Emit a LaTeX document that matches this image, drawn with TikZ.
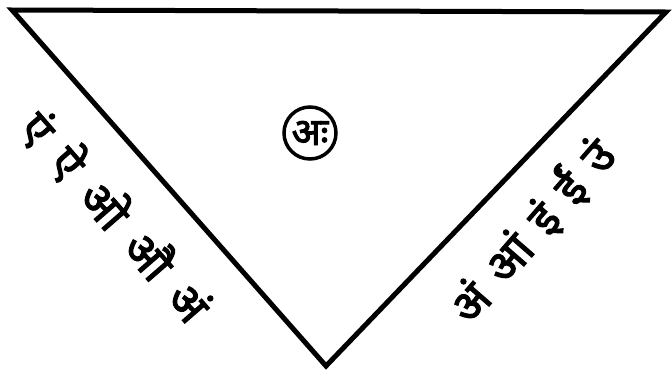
\documentclass[tikz,border=0pt]{standalone}
\usepackage{fontspec}
\newfontfamily\deva[Script=Devanagari,FakeBold=2.5]{Noto Sans}
\begin{document}
\begin{tikzpicture}[x=1pt,y=-1pt,
      edge/.style={line width=5pt,line join=miter},
      syllables/.style={font=\deva\fontsize{46}{46}\selectfont,inner sep=0pt}]
  \useasboundingbox (0,0) rectangle (672,378);
  \coordinate (topleft) at (12,10);
  \coordinate (topright) at (666,12);
  \coordinate (bottom) at (326,366);
  \draw[edge] (topleft) -- (topright) -- (bottom) -- cycle;
  \node[circle,draw,line width=3.5pt,minimum size=52pt,inner sep=0pt,font=\deva\fontsize{38}{38}\selectfont] (centre) at (310,133) {अः};
  \node[syllables,rotate=-49] (leftside) at (116,216) {एं\hspace{20pt}ऐ\hspace{20pt}ओ\hspace{20pt}औ\hspace{20pt}अं};
  \node[syllables,rotate=49] (rightside) at (532,231) {अं\hspace{18pt}आं\hspace{18pt}इं\hspace{18pt}ईं\hspace{18pt}उं};
\end{tikzpicture}
\end{document}
